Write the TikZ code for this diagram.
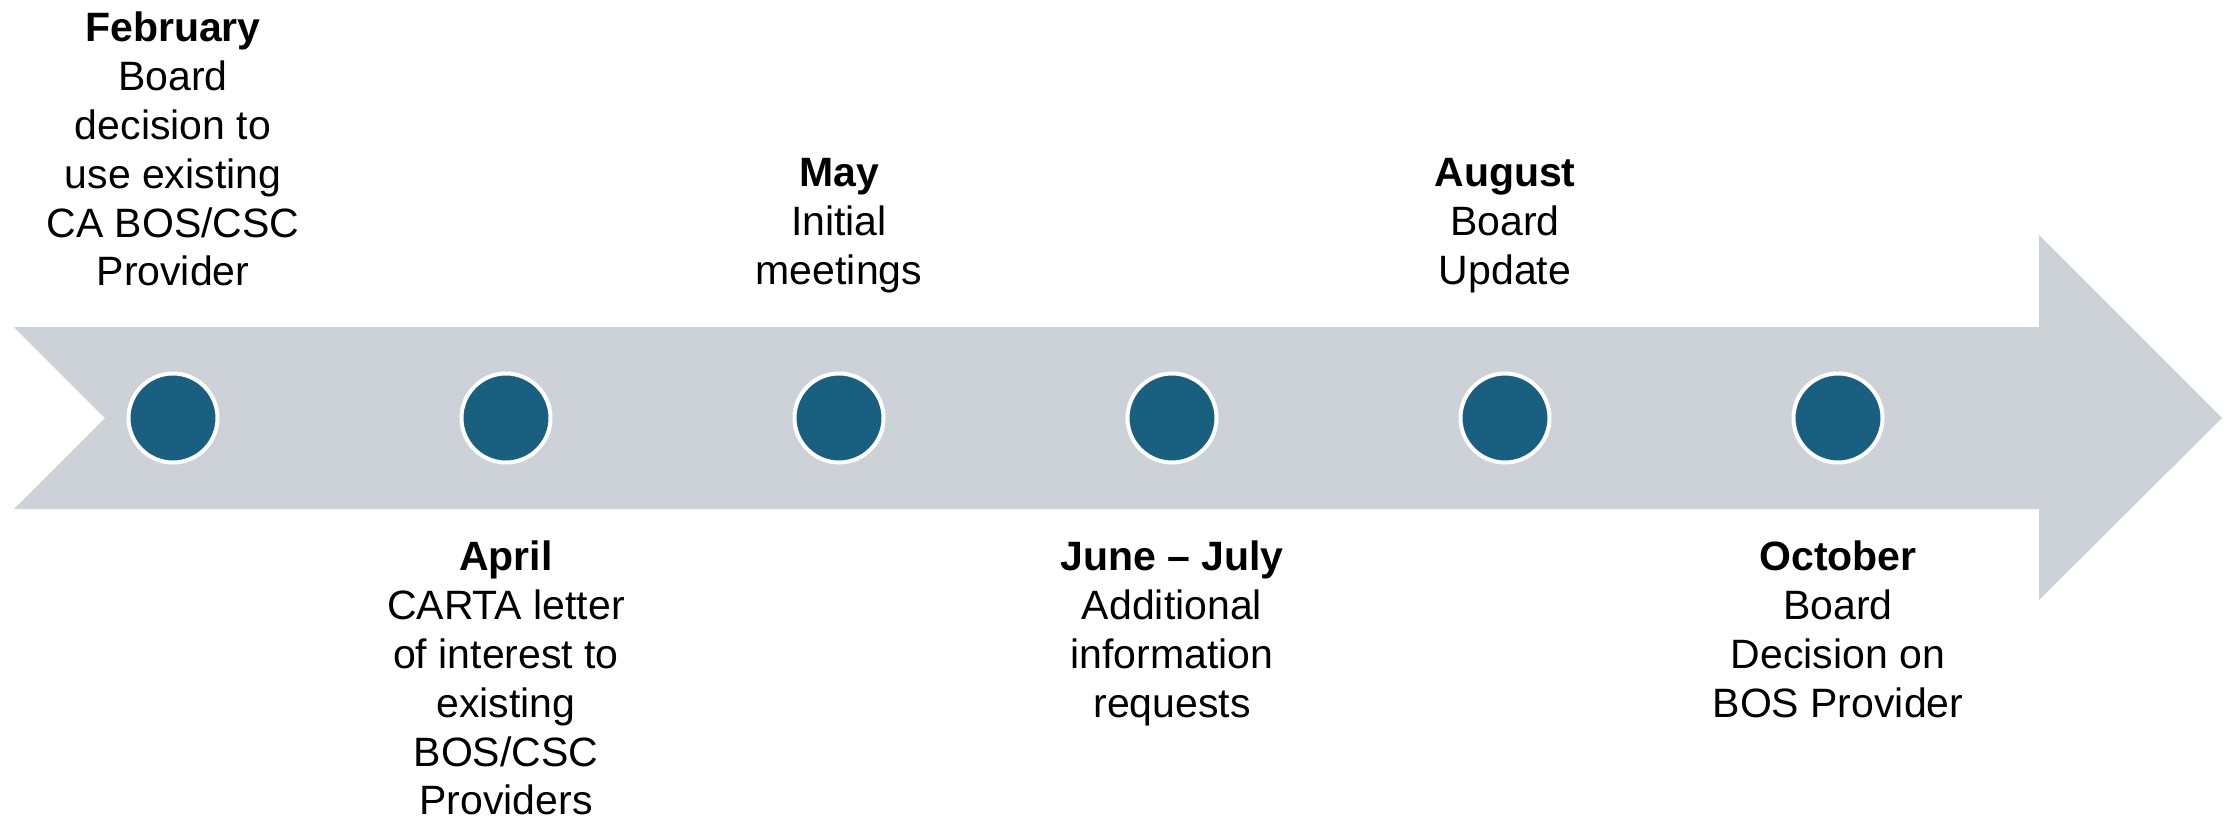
\documentclass[tikz,border=0pt]{standalone}
\usepackage{fontspec}
\setmainfont{Liberation Sans}
\usetikzlibrary{positioning}
\definecolor{bandgray}{RGB}{205,210,216}
\definecolor{dotblue}{RGB}{24,95,128}

\begin{document}
\begin{tikzpicture}[x=1pt,y=-1pt,
    milestone/.style={circle, fill=dotblue, draw=white, line width=4pt, minimum size=89pt, inner sep=0pt},
    eventtext/.style={align=center, inner sep=0pt, font=\fontsize{41}{48.8}\selectfont}]
    \useasboundingbox (0,0) rectangle (2234,824);
    % Timeline band with notched tail and arrow head
    \fill[bandgray] (14,327) -- (2039,327) -- (2039,235) -- (2222,418) -- (2039,600)
        -- (2039,509) -- (14,509) -- (105,418) -- cycle;
    % Milestone dots
    \foreach \i/\x in {1/173,2/506,3/839,4/1172,5/1505,6/1838}
        \node[milestone] (m\i) at (\x,418) {};
    % Events above the band
    \node[eventtext, anchor=north] (feb) at (173,12) {\textbf{February}\\Board\\decision to\\use existing\\CA BOS/CSC\\Provider};
    \node[eventtext, anchor=north] (may) at (839,158.5) {\textbf{May}\\Initial\\meetings};
    \node[eventtext, anchor=north] (aug) at (1505,158.5) {\textbf{August}\\Board\\Update};
    % Events below the band
    \node[eventtext, anchor=north] (apr) at (506,541) {\textbf{April}\\CARTA letter\\of interest to\\existing\\BOS/CSC\\Providers};
    \node[eventtext, anchor=north] (junjul) at (1172,541) {\textbf{June – July}\\Additional\\information\\requests};
    \node[eventtext, anchor=north] (oct) at (1838,541) {\textbf{October}\\Board\\Decision on\\BOS Provider};
\end{tikzpicture}
\end{document}
